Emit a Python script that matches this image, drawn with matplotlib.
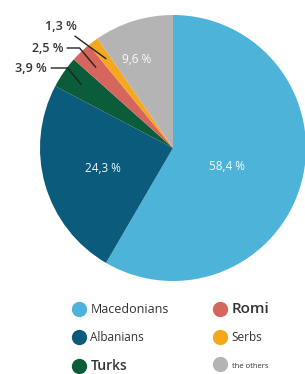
import matplotlib
matplotlib.use("Agg")
import matplotlib.pyplot as plt
from matplotlib.lines import Line2D
import numpy as np

categories = ["Macedonians", "Albanians", "Turks", "Romi", "Serbs", "the others"]
values = [58.4, 24.3, 3.9, 2.5, 1.3, 9.6]
colors = ["#4db3d8", "#0b5b7c", "#0b5c38", "#d5655d", "#f3a81e", "#b4b4b4"]

W, H = 305, 374
fig = plt.figure(figsize=(W / 100, H / 100), dpi=100)
ax = fig.add_axes([0, 0, 1, 1])

def P(x, y):
    return (x, H - y)

cx, cy = P(173, 148)
R = 133
wedges, _ = ax.pie(values, colors=colors, startangle=90, counterclock=False,
                   center=(cx, cy), radius=R, wedgeprops=dict(linewidth=0))
ax.set_xlim(0, W)
ax.set_ylim(0, H)
ax.set_aspect("auto")
ax.axis("off")

def fmt(v):
    return f"{v:.1f}".replace(".", ",") + " %"

font = "Open Sans"
# inside labels
inside = {0: (0.43, -4), 1: (0.55, 0), 5: (0.72, 5)}
for i, (rr, da) in inside.items():
    w = wedges[i]
    a = np.deg2rad((w.theta1 + w.theta2) / 2 + da)
    ax.text(cx + rr * R * np.cos(a), cy + rr * R * np.sin(a), fmt(values[i]),
            color="white", fontsize=8.5, ha="center", va="center", family=font,
            alpha=0.95)

# outside labels
outside = {4: (P(77, 26), "straight"), 3: (P(63, 48), "angle"), 2: (P(47, 68), "angle")}
for i, (tpos, kind) in outside.items():
    w = wedges[i]
    a = np.deg2rad((w.theta1 + w.theta2) / 2)
    xy = (cx + 0.84 * R * np.cos(a), cy + 0.84 * R * np.sin(a))
    if kind == "straight":
        cs = "arc3"
    else:
        cs = "angle,angleA=0,angleB=-50,rad=0"
    ax.annotate(fmt(values[i]), xy=xy, xytext=tpos, ha="right", va="center",
                fontsize=9, fontweight="semibold", family=font, color="#333333",
                arrowprops=dict(arrowstyle="-", color="#222222", lw=1.0,
                                connectionstyle=cs, shrinkA=1, shrinkB=0))

handles = [Line2D([], [], marker="o", linestyle="", markersize=10,
                  markerfacecolor=c, markeredgecolor=c) for c in colors]
leg = ax.legend(handles, categories, ncol=2, loc="upper left",
                bbox_to_anchor=(66 / W, 1 - 296 / H), frameon=False,
                handletextpad=0.45, columnspacing=3.6, labelspacing=1.2,
                handlelength=1.0, borderpad=0, prop=dict(family=font, size=9))
sizes = [9, 8.5, 10, 11, 8.5, 5.5]
weights = ["normal", "normal", "semibold", "semibold", "normal", "normal"]
for t, s, wgt in zip(leg.get_texts(), sizes, weights):
    t.set_fontsize(s)
    t.set_fontweight(wgt)
    t.set_color("#333333")

fig.savefig("out.png", dpi=100)
